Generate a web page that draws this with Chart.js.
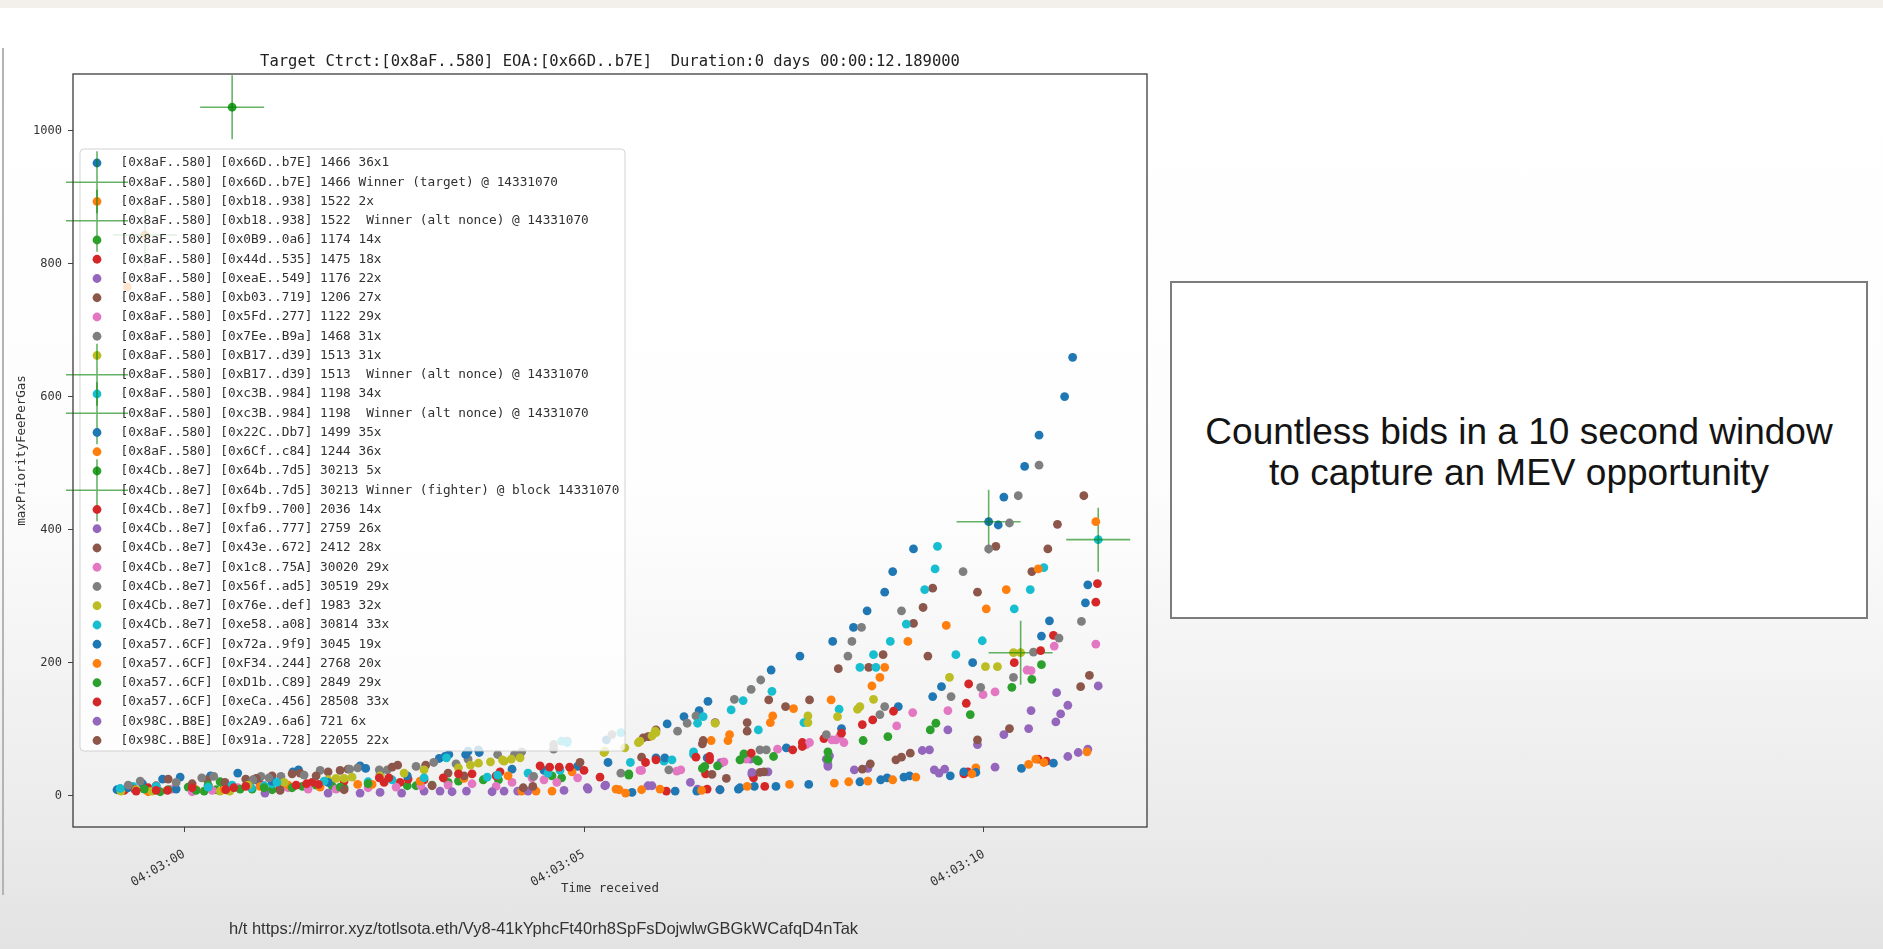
<!DOCTYPE html>
<html>
<head>
<meta charset="utf-8">
<script src="https://cdn.jsdelivr.net/npm/chart.js@4.4.1/dist/chart.umd.min.js"></script>
<style>
  html, body { margin: 0; padding: 0; }
  body {
    width: 1883px; height: 949px; overflow: hidden; position: relative;
    background: linear-gradient(to bottom, #f3efeb 0px, #f3efeb 8px, #ffffff 8px, #fdfdfd 50%, #ececec 85%, #e3e3e3 100%);
  }
  #edge { position: absolute; left: 2px; top: 48px; width: 2px; height: 847px; background: #b4b4b4; }
  #c { position: absolute; left: 0; top: 0; }
  #note {
    position: absolute; left: 1170px; top: 281px; width: 698px; height: 338px; box-sizing: border-box;
    border: 2px solid #7c7c7c; background: #ffffff;
    display: flex; align-items: center; justify-content: center; text-align: center;
    font-family: "Liberation Sans", Arial, sans-serif; font-size: 37px; line-height: 41px; color: #141414;
    padding-top: 4px;
  }
  #credit {
    position: absolute; left: 229px; top: 918px;
    font-family: "Liberation Sans", Arial, sans-serif; font-size: 16.5px; line-height: 20px; color: #333;
  }
</style>
</head>
<body>
<div id="edge"></div>
<canvas id="c" width="1160" height="949"></canvas>
<div id="note">Countless bids in a 10 second window<br>to capture an MEV opportunity</div>
<div id="credit">h/t https://mirror.xyz/totlsota.eth/Vy8-41kYphcFt40rh8SpFsDojwlwGBGkWCafqD4nTak</div>
<script>
// time axis: seconds after 04:03:00
var tickSeconds = [0, 5, 10];
var tickLabels = ['04:03:00', '04:03:05', '04:03:10'];
var feeTicks = [0, 200, 400, 600, 800, 1000];

var titleText = 'Target Ctrct:[0x8aF..580] EOA:[0x66D..b7E]  Duration:0 days 00:00:12.189000';

// bids: [seconds, maxPriorityFeePerGas]
var bids66D = [[-0.84,9],[-0.52,18],[-0.27,25],[-0.05,28],[0.33,30],[0.67,34],[1.36,36],[1.43,39],[2.2,45],[3.19,56],[3.26,59],[3.31,62],[3.55,67],[3.68,69],[6.04,108],[6.25,119],[6.44,128],[6.55,142],[7.34,189],[7.7,210],[8.11,232],[8.37,253],[8.54,278],[8.76,306],[8.86,337],[9.12,371],[10.06,412],[10.18,407],[10.25,449],[10.51,495],[10.69,542],[11.01,600],[11.11,659]];
var win66D = [[10.06,412]];
var bidsB18 = [[-0.71,765],[-0.49,843]];
var winB18 = [[-0.49,843]];
var bids0B9 = [[-0.3,6],[0.25,7],[0.4,9],[0.85,10],[1.1,9],[1.48,14],[1.65,16],[1.85,15],[2.0,12],[2.79,15],[2.9,15],[3.3,20],[3.43,22],[3.74,24],[3.93,24],[4.6,30],[4.72,27],[5.56,33]];
var bids44d = [[-0.75,8],[-0.45,12],[0.3,15],[0.6,14],[0.95,18],[1.2,11],[1.6,20],[2.0,22],[2.5,20],[2.8,25],[3.0,24],[3.9,30],[5.2,28],[6.03,7],[6.54,10],[6.7,9],[7.26,14],[9.75,33],[9.8,36],[10.68,55],[10.78,52]];
var bidsEaE = [[1.01,4],[2.2,4],[2.72,4],[3.0,7],[3.2,7],[3.53,7],[4.0,7],[4.17,7],[5.05,10],[5.26,15],[5.8,15],[6.33,20],[7.1,32],[7.3,36],[8.38,39],[8.55,41],[9.38,39],[9.51,40],[10.14,43],[11.05,59],[11.18,65],[11.3,70]];
var bidsB03 = [[-0.2,25],[0.29,24],[0.77,25],[1.1,30],[1.45,34],[1.8,36],[2.05,40],[2.67,46],[3.02,46],[5.74,87],[5.9,99],[6.64,110],[7.04,110],[7.31,144],[7.82,144],[8.18,191],[8.56,193],[8.74,212],[9.12,259],[9.24,283],[9.36,312],[9.92,306],[10.15,375],[10.6,337],[10.8,371],[10.92,408],[11.25,451]];
var bids5Fd = [[-0.15,10],[0.35,8],[0.67,12],[1.0,15],[1.3,12],[1.9,10],[2.3,12],[2.96,15],[3.3,16],[3.9,14],[4.1,20],[4.66,20],[5.7,38],[6.16,37],[6.71,50],[6.97,55],[7.42,70],[7.78,77],[8.15,84],[8.91,105],[9.55,128],[9.99,152],[10.54,189],[10.88,225]];
var bids7Ee = [[-0.55,22],[0.22,27],[0.96,29],[1.21,29],[1.7,38],[2.17,42],[2.54,39],[3.12,50],[3.55,55],[4.13,62],[4.22,66],[4.62,77],[4.79,82],[6.17,97],[6.29,109],[6.4,120],[6.88,145],[7.09,160],[7.21,174],[8.3,210],[8.35,232],[8.47,253],[8.97,278],[9.74,337],[10.06,371],[10.32,410],[10.43,451],[10.69,497]];
var bidsB17 = [[-0.79,7],[0.45,7],[1.8,24],[2.0,26],[3.0,39],[3.58,46],[3.83,51],[4.09,55],[5.25,65],[5.51,72],[5.7,82],[5.89,97],[6.64,109],[7.8,120],[8.45,134],[8.62,145],[9.57,178],[10.02,194],[10.37,215],[10.46,215]];
var winB17 = [[10.46,215]];
var bidsC3B = [[-0.64,14],[0.84,12],[1.1,18],[2.3,21],[3.79,28],[4.3,34],[4.7,38],[5.58,50],[6.0,52],[6.37,62],[7.18,99],[7.75,110],[8.19,130],[8.65,193],[9.03,258],[9.65,212],[9.98,233],[10.38,281],[10.58,310],[10.75,343],[11.43,385]];
var winC3B = [[11.43,385]];
var bids22C = [[-0.7,12],[-0.1,10],[0.5,16],[0.9,24],[1.1,22],[1.8,20],[2.27,41],[2.45,32],[2.79,30],[3.52,62],[3.69,65],[4.1,40],[4.5,38],[4.92,44],[5.28,84],[5.3,50],[5.9,57],[6.01,57],[6.54,57],[7.53,72],[8.22,101],[8.93,134],[9.36,149],[9.47,164],[9.86,200],[10.72,240],[10.82,263],[11.27,290],[11.3,317]];
var bids6Cf = [[-0.45,6],[0.15,9],[0.5,10],[0.95,14],[1.3,16],[1.7,13],[2.17,17],[2.35,17],[2.95,22],[3.5,26],[4.05,30],[4.85,36],[5.82,89],[6.59,83],[6.8,83],[6.82,92],[7.33,110],[7.36,120],[7.62,131],[8.09,144],[8.6,165],[8.7,178],[8.76,193],[9.05,232],[9.53,256],[9.9,42],[10.03,281],[10.28,310],[10.68,341],[10.75,50],[11.4,412]];
var bids64b = [[-0.2,9],[0.05,13],[0.3,16],[0.45,21],[0.6,1035]];
var win64b = [[0.6,1035]];
var bidsFb9 = [[2.7,20],[3.95,36],[5.0,38],[6.52,33],[6.57,54],[7.12,27],[7.73,80],[8.0,86],[9.81,168],[10.87,241],[11.4,291],[11.42,319]];
var bidsFa6 = [[5.04,12],[5.27,16],[5.85,15],[6.42,10],[6.71,49],[7.08,55],[7.1,35],[8.03,55],[8.05,47],[8.05,44],[8.07,60],[9.23,68],[9.32,69],[9.44,34],[9.55,99],[9.92,77],[10.25,92],[10.56,101],[10.59,128],[10.9,111],[10.91,155],[10.96,123],[11.05,136],[11.43,165]];
var bids43e = [[-0.62,10],[-0.35,15],[0.1,18],[0.51,20],[0.9,26],[1.35,33],[1.65,30],[1.95,38],[2.6,43],[3.3,34],[3.5,30],[4.95,50],[5.72,58],[5.8,89],[6.48,78],[6.49,83],[7.04,58],[7.04,97],[7.52,134],[9.3,210]];
var bids1c8 = [[0.1,6],[1.55,10],[2.65,13],[3.6,18],[4.35,27],[4.5,24],[4.92,27],[5.72,38],[6.21,39],[6.75,51],[7.03,55],[7.82,80],[8.1,84],[8.2,90],[8.25,80],[9.11,125],[10.14,156],[10.59,188],[11.4,228]];
var bids56f = [[-0.7,16],[-0.1,20],[0.37,29],[0.86,24],[1.06,27],[1.5,31],[2.07,40],[2.44,39],[2.9,44],[3.4,48],[3.92,62],[4.37,29],[4.62,70],[5.35,92],[5.46,34],[6.06,39],[7.2,69],[7.28,69],[8.03,92],[8.7,122],[8.76,134],[9.59,149],[9.96,163],[10.37,178],[10.62,216],[10.94,237],[11.22,262]];
var bids76e = [[-0.6,9],[-0.4,7],[0.57,7],[0.8,16],[1.25,20],[1.9,26],[2.1,28],[2.45,30],[2.75,34],[3.43,42],[3.68,49],[3.98,54],[4.0,52],[4.2,57],[5.26,67],[5.68,80],[5.85,90],[5.9,95],[7.8,110],[8.17,119],[8.42,130],[10.17,194]];
var bidsE58 = [[-0.8,11],[-0.35,14],[0.3,13],[0.6,16],[1.0,15],[1.16,20],[1.75,22],[2.6,24],[3.0,27],[3.28,57],[3.92,31],[4.55,34],[4.72,82],[4.79,80],[5.46,95],[6.1,54],[6.37,66],[6.42,109],[6.49,119],[6.84,129],[6.99,143],[7.35,157],[8.45,193],[8.62,212],[8.83,232],[9.26,310],[9.39,341],[9.42,375]];
var bids72a = [[5.6,5],[6.14,7],[6.41,7],[6.7,9],[6.93,10],[6.95,12],[7.13,14],[7.4,14],[7.81,17],[8.45,21],[8.71,24],[8.79,27],[9.0,28],[9.07,30],[9.58,30],[9.75,36],[9.9,35],[10.47,41],[10.87,49]];
var bidsF34 = [[4.22,7],[4.4,7],[4.6,7],[5.4,10],[5.44,9],[5.52,4],[5.72,9],[5.95,10],[6.47,8],[7.04,14],[7.57,17],[8.13,19],[8.31,21],[8.55,22],[8.86,24],[9.15,28],[9.85,33],[10.56,47],[10.65,55],[11.29,66]];
var bidsD1b = [[-0.5,10],[0.15,8],[0.7,10],[1.0,12],[1.35,12],[1.95,13],[2.3,18],[3.1,16],[5.56,31],[6.48,41],[6.51,44],[6.67,45],[6.95,54],[7.0,63],[7.16,54],[7.18,52],[7.37,59],[8.05,66],[8.05,55],[8.49,83],[8.8,89],[9.33,99],[9.4,109],[9.83,122],[10.35,163],[10.6,175],[10.72,197]];
var bidsECa = [[-0.6,7],[-0.35,8],[-0.21,8],[0.1,12],[0.52,9],[0.62,12],[0.77,14],[1.4,16],[1.53,18],[1.68,17],[2.44,27],[2.56,27],[3.24,27],[3.43,33],[3.6,33],[4.45,45],[4.57,43],[4.69,43],[4.82,43],[5.77,50],[5.9,54],[6.4,58],[6.57,59],[7.09,64],[7.61,69],[7.73,74],[8.22,94],[8.48,107],[8.61,114],[8.87,127],[9.78,139],[10.38,200],[10.71,218]];
var bids2A9 = [[1.8,4],[2.45,5],[3.35,6],[3.85,6],[4.3,7],[4.75,8]];
var bids91a = [[1.2,8],[2.0,9],[3.1,15],[4.24,12],[4.36,14],[6.6,32],[6.78,26],[7.2,35],[7.25,36],[8.48,40],[8.58,48],[8.9,54],[8.97,58],[9.08,64],[9.92,84],[10.32,101],[11.21,164],[11.32,181]];

// legend order = plotting order
var seriesLabels = [
  '[0x8aF..580] [0x66D..b7E] 1466 36x1',
  '[0x8aF..580] [0x66D..b7E] 1466 Winner (target) @ 14331070',
  '[0x8aF..580] [0xb18..938] 1522 2x',
  '[0x8aF..580] [0xb18..938] 1522  Winner (alt nonce) @ 14331070',
  '[0x8aF..580] [0x0B9..0a6] 1174 14x',
  '[0x8aF..580] [0x44d..535] 1475 18x',
  '[0x8aF..580] [0xeaE..549] 1176 22x',
  '[0x8aF..580] [0xb03..719] 1206 27x',
  '[0x8aF..580] [0x5Fd..277] 1122 29x',
  '[0x8aF..580] [0x7Ee..B9a] 1468 31x',
  '[0x8aF..580] [0xB17..d39] 1513 31x',
  '[0x8aF..580] [0xB17..d39] 1513  Winner (alt nonce) @ 14331070',
  '[0x8aF..580] [0xc3B..984] 1198 34x',
  '[0x8aF..580] [0xc3B..984] 1198  Winner (alt nonce) @ 14331070',
  '[0x8aF..580] [0x22C..Db7] 1499 35x',
  '[0x8aF..580] [0x6Cf..c84] 1244 36x',
  '[0x4Cb..8e7] [0x64b..7d5] 30213 5x',
  '[0x4Cb..8e7] [0x64b..7d5] 30213 Winner (fighter) @ block 14331070',
  '[0x4Cb..8e7] [0xfb9..700] 2036 14x',
  '[0x4Cb..8e7] [0xfa6..777] 2759 26x',
  '[0x4Cb..8e7] [0x43e..672] 2412 28x',
  '[0x4Cb..8e7] [0x1c8..75A] 30020 29x',
  '[0x4Cb..8e7] [0x56f..ad5] 30519 29x',
  '[0x4Cb..8e7] [0x76e..def] 1983 32x',
  '[0x4Cb..8e7] [0xe58..a08] 30814 33x',
  '[0xa57..6CF] [0x72a..9f9] 3045 19x',
  '[0xa57..6CF] [0xF34..244] 2768 20x',
  '[0xa57..6CF] [0xD1b..C89] 2849 29x',
  '[0xa57..6CF] [0xeCa..456] 28508 33x',
  '[0x98C..B8E] [0x2A9..6a6] 721 6x',
  '[0x98C..B8E] [0x91a..728] 22055 22x'
];
var seriesPoints = [
  bids66D, win66D, bidsB18, winB18, bids0B9, bids44d, bidsEaE, bidsB03, bids5Fd, bids7Ee,
  bidsB17, winB17, bidsC3B, winC3B, bids22C, bids6Cf, bids64b, win64b, bidsFb9, bidsFa6,
  bids43e, bids1c8, bids56f, bids76e, bidsE58, bids72a, bidsF34, bidsD1b, bidsECa, bids2A9, bids91a
];

// matplotlib tab10 cycle, winners drawn in green
var tab10 = ['#1f77b4', '#ff7f0e', '#2ca02c', '#d62728', '#9467bd', '#8c564b', '#e377c2', '#7f7f7f', '#bcbd22', '#17becf'];
var winnerColor = 'rgba(0, 128, 0, 0.6)';

var monoFont = '"DejaVu Sans Mono", "Liberation Mono", monospace';

var datasets = [];
var colorIndex = 0;
for (var i = 0; i < seriesLabels.length; i++) {
  var isWinner = seriesLabels[i].indexOf('Winner') >= 0;
  var pts = seriesPoints[i].map(function (p) { return {x: p[0], y: p[1]}; });
  if (isWinner) {
    datasets.push({
      label: seriesLabels[i], data: pts, order: -i,
      pointStyle: 'cross', pointRadius: 32, borderColor: winnerColor, pointBorderWidth: 1.6,
      backgroundColor: winnerColor
    });
  } else {
    var col = tab10[colorIndex % 10];
    colorIndex++;
    datasets.push({
      label: seriesLabels[i], data: pts, order: -i,
      pointStyle: 'circle', pointRadius: 4.4, pointBorderWidth: 0,
      backgroundColor: col, borderColor: col
    });
  }
}

// white plot area that fades a little towards the bottom
var plotBackground = {
  id: 'plotBackground',
  beforeDatasetsDraw: function (chart) {
    var a = chart.chartArea, ctx = chart.ctx;
    var g = ctx.createLinearGradient(0, a.top, 0, a.bottom);
    g.addColorStop(0, '#ffffff');
    g.addColorStop(0.55, '#fefefe');
    g.addColorStop(1, '#efefef');
    ctx.save();
    ctx.fillStyle = g;
    ctx.fillRect(a.left, a.top, a.right - a.left, a.bottom - a.top);
    ctx.restore();
  }
};

// matplotlib style legend box sitting inside the axes
var boxLegend = {
  id: 'boxLegend',
  afterDatasetsDraw: function (chart) {
    var a = chart.chartArea, ctx = chart.ctx;
    var left = a.left + 7, top = a.top + 75, w = 545, h = 602;
    var rowGap = 19.25, firstRow = top + 14;
    ctx.save();
    ctx.beginPath();
    ctx.roundRect(left, top, w, h, 4);
    ctx.fillStyle = 'rgba(255,255,255,0.8)';
    ctx.fill();
    ctx.strokeStyle = 'rgba(200,200,200,0.8)';
    ctx.lineWidth = 1;
    ctx.stroke();
    ctx.font = '12.75px ' + monoFont;
    ctx.textBaseline = 'middle';
    chart.data.datasets.forEach(function (ds, k) {
      var y = firstRow + k * rowGap;
      var mx = left + 17;
      if (ds.pointStyle === 'cross') {
        ctx.strokeStyle = ds.borderColor;
        ctx.lineWidth = 1.6;
        ctx.beginPath();
        ctx.moveTo(mx - 31, y); ctx.lineTo(mx + 31, y);
        ctx.moveTo(mx, y - 31); ctx.lineTo(mx, y + 31);
        ctx.stroke();
      } else {
        ctx.fillStyle = ds.backgroundColor;
        ctx.beginPath();
        ctx.arc(mx, y, 4.4, 0, Math.PI * 2);
        ctx.fill();
      }
    });
    ctx.fillStyle = '#303030';
    chart.data.datasets.forEach(function (ds, k) {
      ctx.fillText(ds.label, left + 40.5, firstRow + k * rowGap);
    });
    ctx.restore();
  },
  afterDraw: function (chart) {
    var a = chart.chartArea, ctx = chart.ctx;
    ctx.save();
    ctx.strokeStyle = '#3c3c3c';
    ctx.lineWidth = 1.3;
    ctx.strokeRect(a.left, a.top, a.right - a.left, a.bottom - a.top);
    ctx.restore();
  }
};

new Chart(document.getElementById('c'), {
  type: 'scatter',
  data: { datasets: datasets },
  options: {
    responsive: false,
    animation: false,
    events: [],
    // big winner crosses would otherwise pull the plot area in
    layout: { autoPadding: false, padding: { left: 0, right: 13, top: 53, bottom: 42 } },
    plugins: {
      legend: { display: false },
      tooltip: { enabled: false },
      title: {
        display: true, text: titleText, fullSize: false, color: '#222',
        font: { family: monoFont, size: 15.5, weight: 'normal' },
        padding: { top: 0, bottom: 2.4 }
      }
    },
    scales: {
      x: {
        type: 'linear', min: -1.39, max: 12.04,
        afterBuildTicks: function (s) { s.ticks = tickSeconds.map(function (v) { return {value: v}; }); },
        afterFit: function (s) { s.height = 80; s.paddingLeft = 0; s.paddingRight = 0; },
        ticks: {
          autoSkip: false, minRotation: 30, maxRotation: 30, padding: 15, color: '#333',
          font: { family: monoFont, size: 12.5 },
          callback: function (v, idx) { return tickLabels[idx]; }
        },
        grid: { drawOnChartArea: false, tickLength: 5, color: '#444' },
        border: { display: false },
        title: {
          display: true, text: 'Time received', color: '#333',
          font: { family: monoFont, size: 12.5 }, padding: { top: 0, bottom: 10.5 }
        }
      },
      y: {
        type: 'linear', min: -47, max: 1085,
        afterBuildTicks: function (s) { s.ticks = feeTicks.map(function (v) { return {value: v}; }); },
        afterFit: function (s) { s.width = 73; s.paddingTop = 0; s.paddingBottom = 0; },
        ticks: {
          padding: 6, color: '#333', font: { family: monoFont, size: 12 },
          callback: function (v) { return String(v); }
        },
        grid: { drawOnChartArea: false, tickLength: 5, color: '#444' },
        border: { display: false },
        title: {
          display: true, text: 'maxPriorityFeePerGas', color: '#333',
          font: { family: monoFont, size: 12.5 }, padding: { top: 14.5, bottom: 0 }
        }
      }
    }
  },
  plugins: [plotBackground, boxLegend]
});
</script>
</body>
</html>
